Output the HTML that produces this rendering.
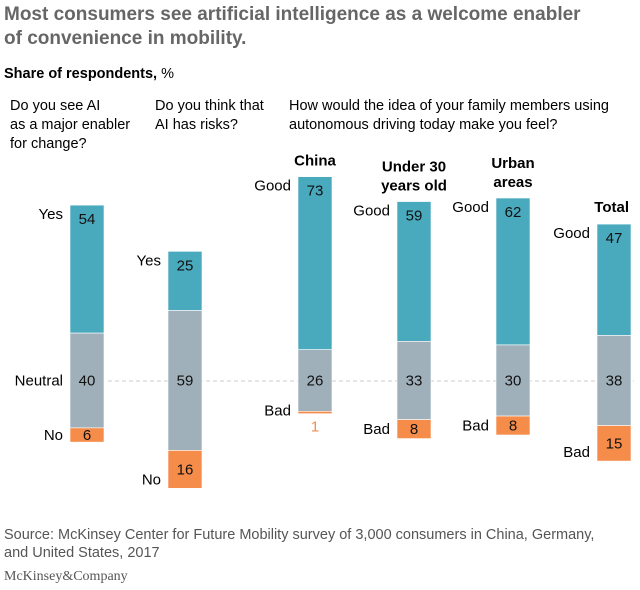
<!DOCTYPE html>
<html><head><meta charset="utf-8"><style>
body{margin:0;background:#fff;width:640px;height:585px;overflow:hidden;font-family:"Liberation Sans",Arial,sans-serif}
</style></head><body>
<svg width="640" height="585" font-family="Liberation Sans, Arial, sans-serif">
<text x="4" y="20" font-size="19" font-weight="bold" fill="#666">Most consumers see artificial intelligence as a welcome enabler</text>
<text x="4" y="44" font-size="19" font-weight="bold" fill="#666">of convenience in mobility.</text>
<text x="4" y="78" font-size="14.5" fill="#000"><tspan font-weight="bold">Share of respondents,</tspan> %</text>
<g font-size="14.5" fill="#000">
<text x="10" y="110">Do you see AI</text><text x="10" y="129">as a major enabler</text><text x="10" y="148">for change?</text>
<text x="155" y="110">Do you think that</text><text x="155" y="129">AI has risks?</text>
<text x="289" y="110">How would the idea of your family members using</text><text x="289" y="129">autonomous driving today make you feel?</text>
</g>
<line x1="108" y1="381" x2="634" y2="381" stroke="#ccc" stroke-dasharray="4,3"/>
<g id="bars"></g>
<g fill="#555">
<text x="4" y="539" font-size="14.5">Source: McKinsey Center for Future Mobility survey of 3,000 consumers in China, Germany,</text>
<text x="4" y="557" font-size="14.5">and United States, 2017</text>
</g>
<text x="4" y="580" font-size="14" font-family="Liberation Serif, serif" fill="#555">McKinsey&amp;Company</text>
</svg>
<script>
const categories=["AI enabler","AI risks","China","Under 30 years old","Urban areas","Total"];
const positive=[54,25,73,59,62,47];
const neutral=[40,59,26,33,30,38];
const negative=[6,16,1,8,8,15];
const posLabels=["Yes","Yes","Good","Good","Good","Good"];
const negLabels=["No","No","Bad","Bad","Bad","Bad"];
const headers=[[],[],["China"],["Under 30","years old"],["Urban","areas"],["Total"]];
const xs=[70,168,298,397,496,597], W=34, yc=380.5, s=2.37;
const ns="http://www.w3.org/2000/svg", g=document.getElementById("bars");
const y=v=>v*s;
function mk(t,a,txt){const e=document.createElementNS(ns,t);for(const k in a)e.setAttribute(k,a[k]);if(txt!=null)e.textContent=txt;g.appendChild(e);return e;}
categories.forEach((c,i)=>{
 const x=xs[i], nt=yc-y(neutral[i])/2, nb=yc+y(neutral[i])/2, pt=nt-y(positive[i]), bb=nb+y(negative[i]);
 let r=mk("rect",{x:x,y:pt,width:W,height:nt-pt,fill:"#49a9bd",stroke:"#fff","stroke-width":0.6});
 
 
 r=mk("rect",{x:x,y:nt,width:W,height:nb-nt,fill:"#a0b0bb",stroke:"#fff","stroke-width":0.6});
 
 
 r=mk("rect",{x:x,y:nb,width:W,height:bb-nb,fill:"#f58c4a",stroke:"#fff","stroke-width":0.6});
 
 
 const cx=x+W/2;
 let t=mk("text",{x:cx,y:pt+19,"font-size":15,"text-anchor":"middle",fill:"#111"},positive[i]);
 
 
 t=mk("text",{x:cx,y:yc+5,"font-size":15,"text-anchor":"middle",fill:"#111"},neutral[i]);
 
 
 const small=y(negative[i])<10;
 t=mk("text",{x:cx,y:small?bb+18:(nb+bb)/2+5,"font-size":15,"text-anchor":"middle",fill:small?"#f58c4a":"#111"},negative[i]);
 
 
 t=mk("text",{x:x-7,y:pt+14,"font-size":15,"text-anchor":"end",fill:"#000"},posLabels[i]);
 
 
 if(i===0){t=mk("text",{x:x-7,y:yc+5,"font-size":15,"text-anchor":"end",fill:"#000"},"Neutral");
 
 }
 const big=y(negative[i])>25;
 t=mk("text",{x:x-7,y:big?bb-4:(small?nb+4:(nb+bb)/2+5),"font-size":15,"text-anchor":"end",fill:"#000"},negLabels[i]);
 
 
 const n=headers[i].length;
 headers[i].forEach((h,j)=>{
  const right=(i===5);
  const base=right?pt-12:pt-11-19*(n-1);
  const ht=mk("text",{x:right?x+W-2:cx,y:base+j*19,"font-size":15,"font-weight":"bold","text-anchor":right?"end":"middle",fill:"#000"},h);
  
  
 });
});
</script>
</body></html>
